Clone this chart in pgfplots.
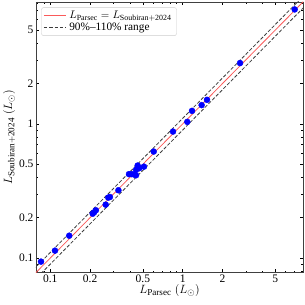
\documentclass[border=0pt]{standalone}
\usepackage{pgfplots}
\pgfplotsset{compat=1.18}
\usepackage{fontspec}
\setmainfont{Liberation Serif}
\definecolor{redline}{RGB}{250,90,90}
\definecolor{dashgray}{RGB}{60,60,60}
\pgfplotsset{longleg/.style={legend image code/.code={\draw[##1] (0pt,0pt) -- (22pt,0pt);}}}
\begin{document}
\begin{tikzpicture}
\begin{axis}[
  scale only axis,
  width=267pt, height=270.5pt,
  xmode=log, ymode=log,
  xmin=0.078, xmax=8.1, ymin=0.078, ymax=8.1,
  xtick={0.1,0.2,0.5,1,2,5}, xticklabels={0.1,0.2,0.5,1,2,5},
  ytick={0.1,0.2,0.5,1,2,5}, yticklabels={0.1,0.2,0.5,1,2,5},
  minor xtick={0.08,0.09,0.3,0.4,0.6,0.7,0.8,0.9,3,4,6,7,8},
  minor ytick={0.08,0.09,0.3,0.4,0.6,0.7,0.8,0.9,3,4,6,7,8},
  tick align=inside,
  major tick length=3.5pt, minor tick length=2pt,
  tick style={black, line width=0.5pt},
  axis line style={line width=0.6pt, black!75},
  tick label style={font=\fontsize{11.5}{13}\selectfont},
  xticklabel style={yshift=1pt},
  yticklabel style={xshift=1pt},
  xlabel={$L_{\mathrm{Parsec}}\ (L_\odot)$},
  ylabel={$L_{\mathrm{Soubiran+2024}}\ (L_\odot)$},
  label style={font=\fontsize{13}{15}\selectfont},
  xlabel style={yshift=5pt},
  ylabel style={yshift=-3pt},
  legend style={at={(0.02,0.98)}, anchor=north west, font=\fontsize{11.3}{12.5}\selectfont,
    draw=black!20, rounded corners=2pt, inner sep=2pt, row sep=0pt,
    nodes={inner xsep=3pt, inner ysep=1.5pt}},
  legend cell align=left,
  clip=true,
]
\addplot[redline, line width=0.8pt, longleg] coordinates {(0.07,0.07) (9,9)};
\addlegendentry{$L_{\mathrm{Parsec}}=L_{\mathrm{Soubiran+2024}}$}
\addplot[dashgray, dash pattern=on 3.5pt off 1.8pt, line width=0.8pt, longleg] coordinates {(0.07,0.077) (9,9.9)};
\addlegendentry{90\%--110\% range}
\addplot[dashgray, dash pattern=on 3.5pt off 1.8pt, line width=0.8pt, forget plot] coordinates {(0.07,0.063) (9,8.1)};
\addplot[only marks, mark=*, mark size=3pt, blue, forget plot] coordinates {
(0.0851,0.094)
(0.1085,0.1135)
(0.139,0.1467)
(0.209,0.214)
(0.214,0.219)
(0.221,0.227)
(0.262,0.250)
(0.274,0.282)
(0.282,0.285)
(0.327,0.320)
(0.393,0.422)
(0.412,0.422)
(0.431,0.419)
(0.444,0.414)
(0.444,0.454)
(0.457,0.489)
(0.470,0.467)
(0.510,0.480)
(0.604,0.622)
(0.845,0.876)
(1.083,1.035)
(1.176,1.25)
(1.39,1.38)
(1.526,1.511)
(2.71,2.84)
(7.01,7.13)
};
\end{axis}
\pgfresetboundingbox
\path ([xshift=-36pt,yshift=-32.5pt]current axis.south west) rectangle ([xshift=2pt,yshift=2pt]current axis.north east);
\end{tikzpicture}
\end{document}
